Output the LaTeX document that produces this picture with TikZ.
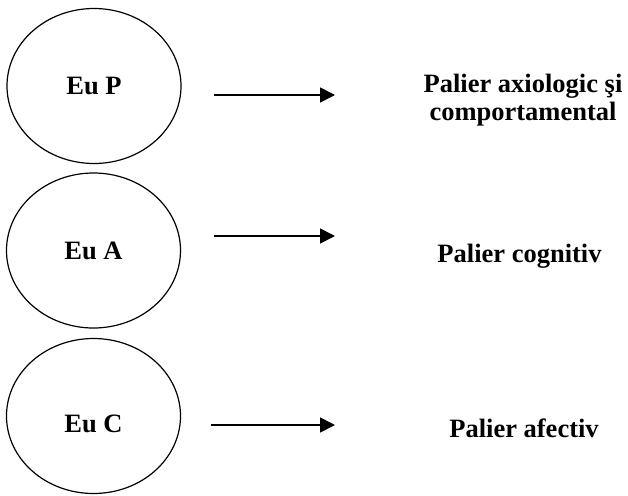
\documentclass[tikz,border=0pt]{standalone}
\usepackage{fontspec}
\setmainfont{Liberation Serif}
\usetikzlibrary{arrows.meta,shapes.geometric}

\begin{document}
\begin{tikzpicture}[
  x=1pt, y=-1pt,
  self/.style={draw, ellipse, line width=1.2pt, minimum width=174pt, minimum height=155pt,
               inner sep=0pt, font=\fontsize{26.5}{28}\selectfont\bfseries},
  level/.style={align=center, inner sep=0pt, font=\fontsize{26.5}{28}\selectfont\bfseries},
  arr/.style={-{Triangle[length=15pt, width=15pt]}, line width=1.7pt}
]
\useasboundingbox (0,0) rectangle (628,495);

% the three selves
\node[self] (eup) at (94,86) {Eu P};
\node[self] (eua) at (93.5,250.5) {Eu A};
\node[self] (euc) at (93.5,416) {\raisebox{-8pt}[\height][\depth]{Eu C}};

% levels
\node[level] (axio) at (523,100) {Palier axiologic şi\\comportamental};
\node[level, anchor=base] (cogn) at (519.5,262) {Palier cognitiv};
\node[level, anchor=base] (afec) at (524,437) {Palier afectiv};

% arrows
\coordinate (pa) at (214,95);  \coordinate (pb) at (335,95);
\coordinate (aa) at (214,236); \coordinate (ab) at (335,236);
\coordinate (ca) at (211,425); \coordinate (cb) at (335,425);
\draw[arr] (pa) -- (pb);
\draw[arr] (aa) -- (ab);
\draw[arr] (ca) -- (cb);
\end{tikzpicture}
\end{document}
